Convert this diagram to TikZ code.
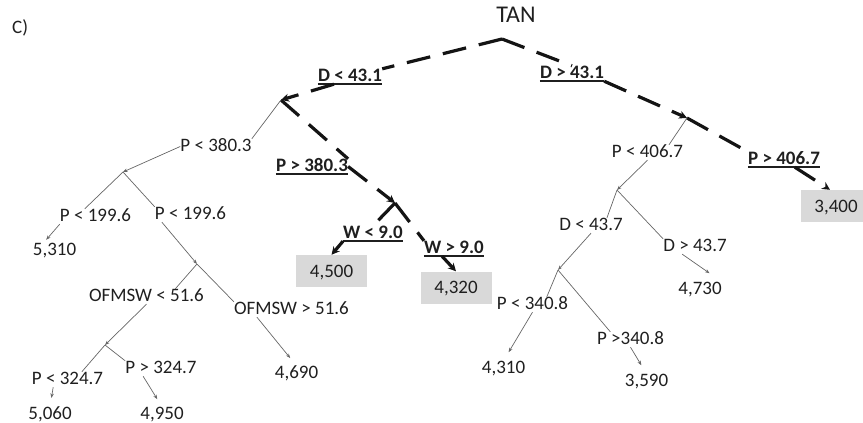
\documentclass[tikz,border=0pt]{standalone}
\usepackage{fontspec}
\setmainfont{Carlito}
\usetikzlibrary{arrows.meta,calc}

\begin{document}
\begin{tikzpicture}[x=1pt,y=-1pt,
  every node/.style={font=\fontsize{19}{22}\selectfont, text=black!88,
    inner sep=0pt, text height=12pt, text depth=3pt, anchor=base},
  boldcond/.style={font=\fontsize{19}{22}\selectfont\bfseries},
  hilite/.style={fill=black!15, minimum width=71pt, minimum height=32pt,
    anchor=center, text depth=0pt},
  thinline/.style={draw=black!60, line width=0.7pt},
  thinarrow/.style={thinline, -{Stealth[length=4.5pt,width=3.5pt]}},
  heavy/.style={draw=black!92, line width=3.2pt, dash pattern=on 24pt off 13pt},
  heavyarrow/.style={heavy, -{Stealth[length=8pt,width=8pt]}},
  uline/.style={draw=black!88, line width=1.6pt}
]
\useasboundingbox (0,0) rectangle (863,423);

% panel tag and root
\node[anchor=base west] (tag) at (12,33) {C)};
\node[font=\fontsize{24}{28}\selectfont] (root) at (516,23) {TAN};

% split points
\coordinate (apex) at (502,39);
\coordinate (j1) at (281,100);
\coordinate (j2) at (123,172);
\coordinate (j3) at (395,203);
\coordinate (j4) at (197,264);
\coordinate (j5) at (105,345);
\coordinate (k1) at (687,118);
\coordinate (k2) at (617,190);
\coordinate (k3) at (558,270);

% conditions on the highlighted path
\node[boldcond] (dl)  at (350,81)  {D < 43.1};
\node[boldcond] (dr)  at (572,78)  {D > 43.1};
\node[boldcond] (pgt) at (312,171) {P > 380.3};
\node[boldcond] (wl)  at (373,238) {W < 9.0};
\node[boldcond] (wg)  at (454,253) {W > 9.0};
\node[boldcond] (pgr) at (784,164) {P > 406.7};
\foreach \n in {dl,dr,pgt,wl,wg,pgr}
  \draw[uline] (\n.south west) -- (\n.south east);

% other conditions
\node (plt) at (216,151)   {P < 380.3};
\node (pa)  at (95.5,221)  {P < 199.6};
\node (pb)  at (190.5,219) {P < 199.6};
\node (oa)  at (146.5,301) {OFMSW < 51.6};
\node (ob)  at (291.5,314) {OFMSW > 51.6};
\node (pc)  at (67.5,384)  {P < 324.7};
\node (pd)  at (161,373)   {P > 324.7};
\node (pe)  at (647.5,157) {P < 406.7};
\node (da)  at (591,230)   {D < 43.7};
\node (db)  at (695,251)   {D > 43.7};
\node (pf)  at (532.5,309) {P < 340.8};
\node (pg)  at (630.5,344) {P >340.8};

% leaves
\node (v1) at (54.5,255)  {5,310};
\node (v2) at (296.5,378) {4,690};
\node (v3) at (50,419)    {5,060};
\node (v4) at (162,419)   {4,950};
\node (v5) at (700,294)   {4,730};
\node (v6) at (503.5,373) {4,310};
\node (v7) at (646.5,386) {3,590};
\node[hilite] (b1) at (331.5,271) {4,500};
\node[hilite] (b2) at (456,287.5) {4,320};
\node[hilite] (b3) at (836,206)   {3,400};

% highlighted path
\draw[heavy] (apex) -- (dl.north east);
\draw[heavy] (apex) -- (dr.north);
\draw[heavyarrow] ($(dl.south)!.5!(dl.south west)$) -- (j1);
\draw[heavy] (j1) -- (pgt.north east);
\draw[heavyarrow] (pgt.east) -- (j3);
\draw[heavy] (j3) -- (wl.north);
\draw[heavyarrow] (wl.south west) -- (b1.north);
\draw[heavy] (j3) -- (wg.north west);
\draw[heavyarrow] ($(wg.south west)!.6!(wg.south)$) -- (b2.north);
\draw[heavyarrow] (dr.south east) -- (k1);
\draw[heavy] (k1) -- (pgr.north west);
\draw[heavyarrow] ($(pgr.south)!.3!(pgr.south east)$) -- ($(b3.north)+(-6,0)$);

% left subtree
\draw[thinline] (j1) -- (plt.north east);
\draw[thinarrow] (plt.west) -- (j2);
\draw[thinline] (j2) -- ($(pa.north west)!.7!(pa.north)$);
\draw[thinarrow, shorten >=4pt] (pa.south west) -- ($(v1.north west)!.5!(v1.north)$);
\draw[thinline] (j2) -- (pb.north west);
\draw[thinarrow] ($(pb.south west)!.2!(pb.south)$) -- (j4);
\draw[thinline] (j4) -- ($(oa.north)!.5!(oa.north east)$);
\draw[thinarrow] (oa.south) -- (j5);
\draw[thinline] (j4) -- (ob.north west);
\draw[thinarrow, shorten >=10pt] ($(ob.south west)!.4!(ob.south)$) -- (v2.north);
\draw[thinline] (j5) -- ($(pc.north)!.4!(pc.north east)$);
\draw[thinarrow, shorten >=9pt] ($(pc.south west)!.6!(pc.south)$) -- (v3.north);
\draw[thinline] (j5) -- (pd.north west);
\draw[thinarrow, shorten >=9pt] ($(pd.south west)!.5!(pd.south)$) -- (v4.north);

% right subtree
\draw[thinline] (k1) -- ($(pe.north)!.6!(pe.north east)$);
\draw[thinarrow] (pe.south) -- (k2);
\draw[thinline] (k2) -- ($(da.north)!.5!(da.north east)$);
\draw[thinarrow] (da.south) -- (k3);
\draw[thinline] (k2) -- (db.north west);
\draw[thinarrow, shorten >=15pt] ($(db.south west)!.6!(db.south)$) -- (v5.north east);
\draw[thinline] (k3) -- ($(pf.north)!.4!(pf.north east)$);
\draw[thinarrow, shorten >=10pt] (pf.south) -- (v6.north);
\draw[thinline] (k3) -- ($(pg.north west)!.4!(pg.north)$);
\draw[thinarrow, shorten >=10pt] (pg.south) -- (v7.north);
\end{tikzpicture}
\end{document}
